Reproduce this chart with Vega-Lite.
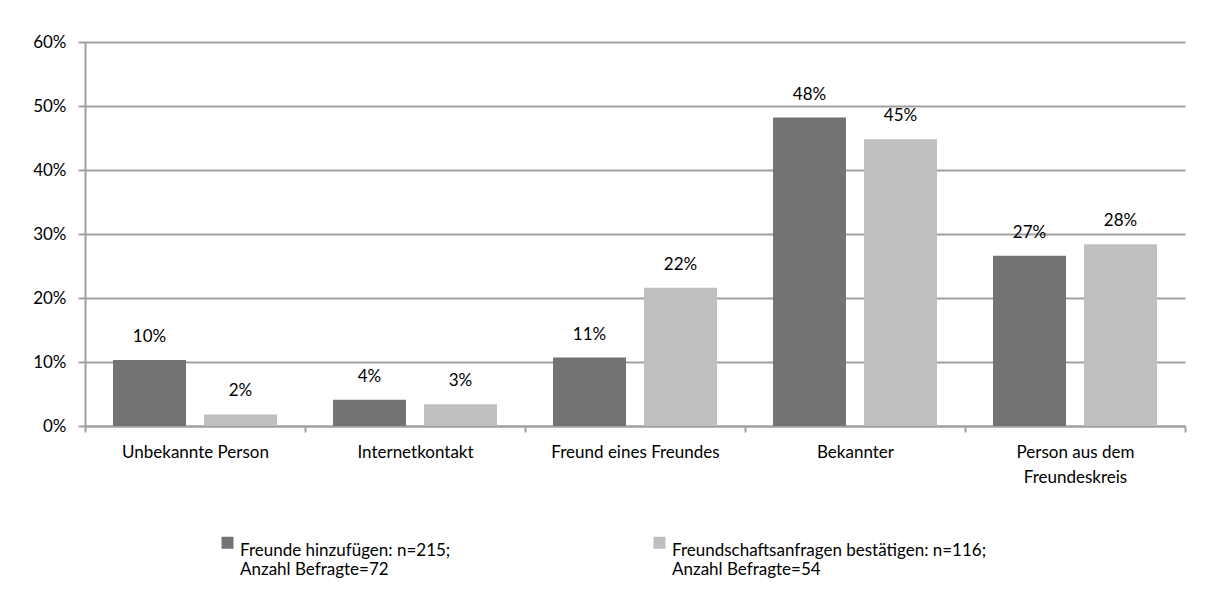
{
  "$schema": "https://vega.github.io/schema/vega-lite/v6.json",
  "width": 1100,
  "height": 384,
  "padding": {"left": 32, "top": 33, "right": 24, "bottom": 10},
  "background": "white",
  "data": {
    "values": [
      {"kategorie": "Unbekannte Person", "gruppe": "Freunde hinzufügen: n=215; Anzahl Befragte=72", "anteil": 0.103},
      {"kategorie": "Unbekannte Person", "gruppe": "Freundschaftsanfragen bestätigen: n=116; Anzahl Befragte=54", "anteil": 0.018},
      {"kategorie": "Internetkontakt", "gruppe": "Freunde hinzufügen: n=215; Anzahl Befragte=72", "anteil": 0.041},
      {"kategorie": "Internetkontakt", "gruppe": "Freundschaftsanfragen bestätigen: n=116; Anzahl Befragte=54", "anteil": 0.034},
      {"kategorie": "Freund eines Freundes", "gruppe": "Freunde hinzufügen: n=215; Anzahl Befragte=72", "anteil": 0.107},
      {"kategorie": "Freund eines Freundes", "gruppe": "Freundschaftsanfragen bestätigen: n=116; Anzahl Befragte=54", "anteil": 0.216},
      {"kategorie": "Bekannter", "gruppe": "Freunde hinzufügen: n=215; Anzahl Befragte=72", "anteil": 0.482},
      {"kategorie": "Bekannter", "gruppe": "Freundschaftsanfragen bestätigen: n=116; Anzahl Befragte=54", "anteil": 0.448},
      {"kategorie": "Person aus dem Freundeskreis", "gruppe": "Freunde hinzufügen: n=215; Anzahl Befragte=72", "anteil": 0.266},
      {"kategorie": "Person aus dem Freundeskreis", "gruppe": "Freundschaftsanfragen bestätigen: n=116; Anzahl Befragte=54", "anteil": 0.284}
    ]
  },
  "encoding": {
    "x": {
      "field": "kategorie",
      "type": "nominal",
      "sort": ["Unbekannte Person", "Internetkontakt", "Freund eines Freundes", "Bekannter", "Person aus dem Freundeskreis"],
      "scale": {"paddingInner": 0, "paddingOuter": 0},
      "axis": {
        "title": null,
        "labelAngle": 0,
        "labelFontSize": 17,
        "labelColor": "#000000",
        "labelPadding": 12,
        "labelBaseline": "top",
        "labelLineHeight": 25,
        "labelLimit": 0,
        "labelExpr": "datum.label == 'Person aus dem Freundeskreis' ? ['Person aus dem', 'Freundeskreis'] : datum.label",
        "domainColor": "#a0a0a0",
        "domainWidth": 2,
        "tickColor": "#a0a0a0",
        "tickWidth": 2,
        "tickSize": 6,
        "tickBand": "extent",
        "grid": false
      }
    },
    "xOffset": {
      "field": "gruppe",
      "type": "nominal",
      "sort": ["Freunde hinzufügen: n=215; Anzahl Befragte=72", "Freundschaftsanfragen bestätigen: n=116; Anzahl Befragte=54"],
      "scale": {"paddingInner": 0.198, "paddingOuter": 0.308}
    },
    "y": {
      "field": "anteil",
      "type": "quantitative",
      "scale": {"domain": [0, 0.6]},
      "axis": {
        "title": null,
        "values": [0, 0.1, 0.2, 0.3, 0.4, 0.5, 0.6],
        "format": ".0%",
        "labelFontSize": 17,
        "labelColor": "#000000",
        "labelPadding": 12,
        "grid": true,
        "gridColor": "#a0a0a0",
        "gridWidth": 2,
        "domainColor": "#a0a0a0",
        "domainWidth": 2,
        "tickColor": "#a0a0a0",
        "tickWidth": 2,
        "tickSize": 7
      }
    }
  },
  "layer": [
    {
      "mark": {"type": "bar"},
      "encoding": {
        "color": {
          "field": "gruppe",
          "type": "nominal",
          "scale": {
            "domain": ["Freunde hinzufügen: n=215; Anzahl Befragte=72", "Freundschaftsanfragen bestätigen: n=116; Anzahl Befragte=54"],
            "range": ["#737373", "#bfbfbf"]
          },
          "legend": {
            "title": null,
            "orient": "none",
            "legendX": 134,
            "legendY": 492,
            "direction": "horizontal",
            "columns": 2,
            "symbolType": "square",
            "symbolSize": 144,
            "symbolStrokeWidth": 0,
            "labelFontSize": 17,
            "labelColor": "#000000",
            "labelLimit": 0,
            "labelOffset": 4,
            "labelLineHeight": 26,
            "labelBaseline": "top",
            "columnPadding": 200,
            "labelExpr": "[slice(datum.label, 0, indexof(datum.label, ';') + 1), slice(datum.label, indexof(datum.label, ';') + 2)]"
          }
        }
      }
    },
    {
      "mark": {"type": "text", "dy": -18, "baseline": "alphabetic", "fontSize": 17, "color": "#000000"},
      "encoding": {
        "text": {"field": "anteil", "type": "quantitative", "format": ".0%"}
      }
    }
  ],
  "config": {
    "view": {"stroke": null},
    "font": "Lato"
  }
}
